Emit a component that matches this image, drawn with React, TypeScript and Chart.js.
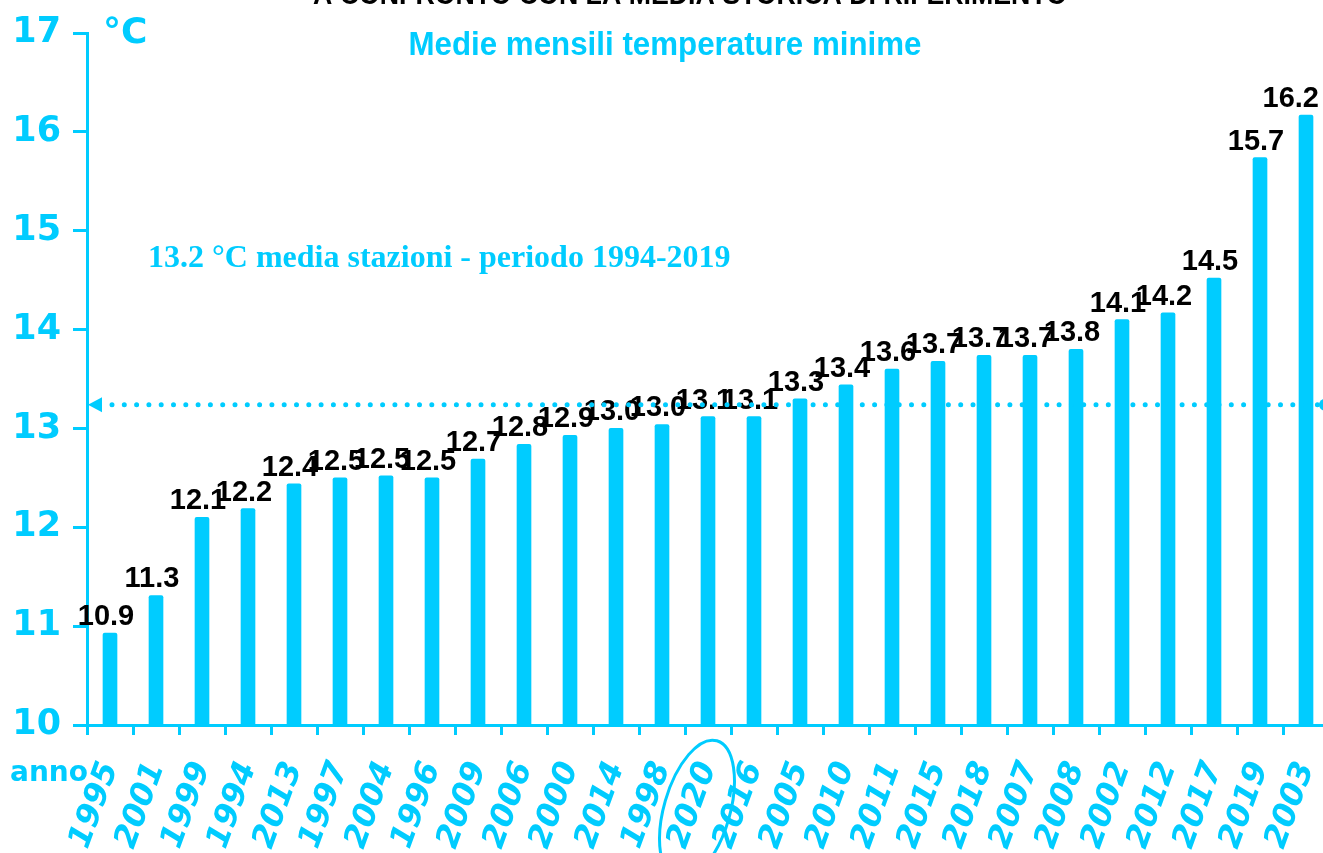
import React, { useEffect, useRef } from "react";
import { Chart, registerables } from "chart.js";

Chart.register(...registerables);

const CYAN = "#00CCFF";

const titleText = "A CONFRONTO CON LA MEDIA STORICA DI RIFERIMENTO";
const subtitleText = "Medie mensili temperature minime";
const unitText = "°C";
const axisNameText = "anno";

const years = [
  "1995", "2001", "1999", "1994", "2013", "1997", "2004", "1996", "2009",
  "2006", "2000", "2014", "1998", "2020", "2016", "2005", "2010", "2011",
  "2015", "2018", "2007", "2008", "2002", "2012", "2017", "2019", "2003",
];

const values = [
  10.93, 11.31, 12.1, 12.19, 12.44, 12.5, 12.52, 12.5, 12.69,
  12.84, 12.93, 13.0, 13.04, 13.12, 13.12, 13.3, 13.44, 13.6,
  13.68, 13.74, 13.74, 13.8, 14.1, 14.17, 14.52, 15.74, 16.17,
];

const yMin = 10;
const yMax = 17;
const yStep = 1;

const mediaStorica = 13.24;
const mediaLabel = "13.2 °C media stazioni - periodo 1994-2019";
const highlightedYear = "2020";

const VIEW_W = 1323;

const overlayPlugin = {
  id: "overlay",
  afterDatasetsDraw(chart: any) {
    const ctx = chart.ctx as CanvasRenderingContext2D;
    const meta = chart.getDatasetMeta(0);
    ctx.save();
    ctx.font = "bold 29px 'Liberation Sans', Arial, sans-serif";
    ctx.fillStyle = "#000000";
    ctx.textAlign = "center";
    ctx.textBaseline = "alphabetic";
    meta.data.forEach((bar: any, i: number) => {
      const txt = values[i].toFixed(1);
      const half = ctx.measureText(txt).width / 2;
      const x = Math.min(bar.x - 4, VIEW_W - half - 4);
      ctx.fillText(txt, x, bar.y - 8);
    });
    ctx.restore();
  },
  afterDraw(chart: any) {
    const ctx = chart.ctx as CanvasRenderingContext2D;
    const area = chart.chartArea;
    const yScale = chart.scales.y;
    const xScale = chart.scales.x;

    // clipped title at top
    ctx.save();
    ctx.font = "bold 30px 'Liberation Sans', Arial, sans-serif";
    ctx.fillStyle = "#000000";
    ctx.textAlign = "center";
    ctx.textBaseline = "alphabetic";
    const tw = ctx.measureText(titleText).width;
    ctx.translate(690, 4);
    ctx.scale(754 / tw, 1);
    ctx.fillText(titleText, 0, 0);
    ctx.restore();

    // subtitle
    ctx.save();
    ctx.font = "bold 34px 'Liberation Sans', Arial, sans-serif";
    ctx.fillStyle = CYAN;
    ctx.textAlign = "center";
    const sw = ctx.measureText(subtitleText).width;
    ctx.translate(665, 55);
    ctx.scale(513 / sw, 1);
    ctx.fillText(subtitleText, 0, 0);
    ctx.restore();

    // unit
    ctx.save();
    ctx.font = "bold 36px 'DejaVu Sans', sans-serif";
    ctx.fillStyle = CYAN;
    ctx.textAlign = "left";
    ctx.fillText(unitText, 103, 43);
    ctx.restore();

    // axis name
    ctx.save();
    ctx.font = "bold 28px 'DejaVu Sans', sans-serif";
    ctx.fillStyle = CYAN;
    ctx.textAlign = "left";
    ctx.fillText(axisNameText, 10, 781);
    ctx.restore();

    // mean annotation text
    ctx.save();
    ctx.font = "bold 32px 'Liberation Serif', 'Times New Roman', serif";
    ctx.fillStyle = CYAN;
    ctx.textAlign = "left";
    ctx.fillText(mediaLabel, 148, 267);
    ctx.restore();

    // dotted mean line with arrow
    const ym = yScale.getPixelForValue(mediaStorica);
    ctx.save();
    ctx.strokeStyle = CYAN;
    ctx.fillStyle = CYAN;
    ctx.lineWidth = 5;
    ctx.lineCap = "round";
    ctx.setLineDash([0, 12.3]);
    ctx.beginPath();
    ctx.moveTo(area.left + 25, ym);
    ctx.lineTo(1318, ym);
    ctx.stroke();
    ctx.setLineDash([]);
    ctx.beginPath();
    ctx.moveTo(area.left + 1, ym);
    ctx.lineTo(area.left + 15, ym - 7.5);
    ctx.lineTo(area.left + 15, ym + 7.5);
    ctx.closePath();
    ctx.fill();
    ctx.beginPath();
    ctx.arc(1325, ym, 6, 0, Math.PI * 2);
    ctx.fill();
    ctx.restore();

    // ellipse around highlighted year
    const idx = years.indexOf(highlightedYear);
    const xh = xScale.getPixelForValue(idx);
    ctx.save();
    ctx.strokeStyle = CYAN;
    ctx.lineWidth = 3;
    ctx.beginPath();
    ctx.ellipse(xh - 11, 810, 33, 72, 0.28, 0, Math.PI * 2);
    ctx.stroke();
    ctx.restore();
  },
};

export default function App() {
  const canvasRef = useRef<HTMLCanvasElement | null>(null);

  useEffect(() => {
    document.body.style.margin = "0";
    document.body.style.overflow = "hidden";
    const canvas = canvasRef.current;
    if (!canvas) return;
    const chart = new Chart(canvas, {
      type: "bar",
      data: {
        labels: years,
        datasets: [
          {
            data: values,
            backgroundColor: CYAN,
            borderWidth: 0,
            borderRadius: 2,
            barThickness: 14,
          },
        ],
      },
      options: {
        animation: false,
        responsive: false,
        devicePixelRatio: 1,
        layout: { padding: { top: 32, right: 0, left: 0, bottom: 0 } },
        plugins: {
          legend: { display: false },
          tooltip: { enabled: false },
          title: { display: false },
        },
        scales: {
          x: {
            type: "category",
            offset: true,
            grid: {
              display: true,
              drawOnChartArea: false,
              drawTicks: true,
              tickLength: 10,
              tickWidth: 3,
              tickColor: CYAN,
              offset: true,
            },
            border: { display: true, color: CYAN, width: 3 },
            ticks: {
              color: CYAN,
              autoSkip: false,
              minRotation: 70,
              maxRotation: 70,
              padding: 22,
              font: { family: "'DejaVu Sans', sans-serif", size: 32, weight: "bold", style: "italic" },
            },
            afterFit: (s: any) => {
              s.height = 853 - 725;
              s.paddingLeft = 0;
              s.paddingRight = 0;
            },
          },
          y: {
            min: yMin,
            max: yMax,
            grid: {
              drawOnChartArea: false,
              drawTicks: true,
              tickLength: 14,
              tickWidth: 3,
              tickColor: CYAN,
            },
            border: { display: true, color: CYAN, width: 3 },
            ticks: {
              stepSize: yStep,
              color: CYAN,
              padding: 12,
              font: { family: "'DejaVu Sans', sans-serif", size: 35, weight: "bold" },
            },
            afterFit: (s: any) => {
              s.width = 87;
            },
          },
        },
      } as any,
      plugins: [overlayPlugin],
    });
    return () => chart.destroy();
  }, []);

  return (
    <div style={{ width: 1329, height: 853, overflow: "hidden" }}>
      <canvas ref={canvasRef} width={1329} height={853} style={{ display: "block" }} />
    </div>
  );
}
